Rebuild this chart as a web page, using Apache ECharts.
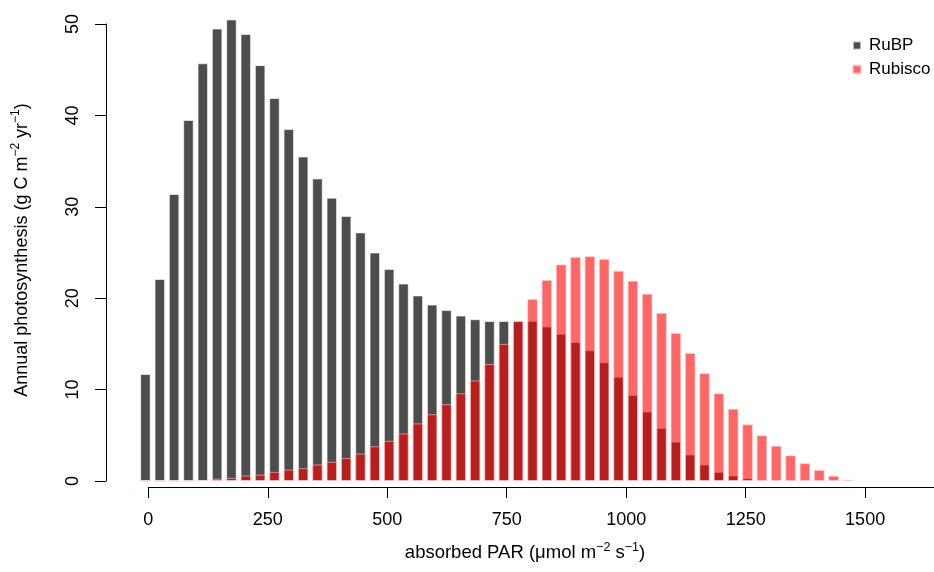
<!DOCTYPE html>
<html>
<head>
<meta charset="utf-8">
<title>Annual photosynthesis by absorbed PAR</title>
<script src="https://cdn.jsdelivr.net/npm/echarts@6/dist/echarts.min.js"></script>
<style>
  html, body { margin: 0; padding: 0; background: #fff; }
  #chart { width: 934px; height: 572px; }
</style>
</head>
<body>
<div id="chart"></div>
<script>
// bin centres of absorbed PAR (umol m-2 s-1)
const parBins = [
  -6, 24, 54, 84, 114, 144, 174, 204, 234, 264,
  294, 324, 354, 384, 414, 444, 474, 504, 534, 564,
  594, 624, 654, 684, 714, 744, 774, 804, 834, 864,
  894, 924, 954, 984, 1014, 1044, 1074, 1104, 1134, 1164,
  1194, 1224, 1254, 1284, 1314, 1344, 1374, 1404, 1434, 1464
]

const rubpValues = [
  11.7, 22.1, 31.4, 39.5, 45.7, 49.5, 50.5, 48.9, 45.5, 41.9,
  38.5, 35.5, 33.1, 31.0, 29.0, 27.2, 25.0, 23.2, 21.6, 20.3,
  19.3, 18.7, 18.1, 17.7, 17.5, 17.5, 17.5, 17.5, 16.9, 16.1,
  15.2, 14.3, 13.0, 11.4, 9.4, 7.6, 5.8, 4.3, 2.9, 1.8,
  1.0, 0.6, 0.3, 0.1, 0, 0, 0, 0, 0, 0
]

const rubiscoValues = [
  0, 0, 0, 0, 0.1, 0.25, 0.35, 0.6, 0.7, 1.0,
  1.25, 1.4, 1.8, 2.1, 2.5, 3.0, 3.8, 4.4, 5.2, 6.3,
  7.3, 8.4, 9.6, 11.0, 12.8, 15.0, 17.5, 19.9, 22.0, 23.7,
  24.5, 24.6, 24.3, 23.0, 21.9, 20.5, 18.4, 16.2, 14.0, 11.8,
  9.6, 7.9, 6.2, 5.0, 3.85, 2.8, 1.95, 1.2, 0.57, 0.15
]

const xTicks = [0, 250, 500, 750, 1000, 1250, 1500]
const yTicks = [0, 10, 20, 30, 40, 50]

const font = "'Liberation Sans', Arial, sans-serif"
const axisColor = '#000'

const chart = echarts.init(document.getElementById('chart'))

chart.setOption({
  animation: false,
  backgroundColor: '#fff',
  grid: {
    left: 148.3,
    top: 24,
    width: 836.3,
    height: 457,
    containLabel: false,
    outerBoundsMode: 'none'
  },
  legend: {
    data: ['RuBP', 'Rubisco'],
    orient: 'vertical',
    left: 847,
    top: 32,
    icon: 'rect',
    itemWidth: 8,
    itemHeight: 8,
    itemGap: 7,
    selectedMode: false,
    textStyle: {
      fontFamily: font,
      fontSize: 17,
      color: '#000',
      padding: [0, 0, 0, 3]
    }
  },
  xAxis: {
    type: 'value',
    min: 0,
    max: 1750,
    interval: 250,
    offset: 6,
    axisLine: { show: true, onZero: false, lineStyle: { color: axisColor, width: 1 } },
    axisTick: { show: true, length: 11, lineStyle: { color: axisColor, width: 1 } },
    axisLabel: {
      color: '#000',
      fontFamily: font,
      fontSize: 18,
      margin: 24,
      formatter: v => (xTicks.indexOf(v) >= 0 ? String(v) : '')
    },
    splitLine: { show: false }
  },
  yAxis: {
    type: 'value',
    min: 0,
    max: 50,
    interval: 10,
    offset: 42.3,
    axisLine: { show: true, onZero: false, lineStyle: { color: axisColor, width: 1 } },
    axisTick: { show: true, length: 11, lineStyle: { color: axisColor, width: 1 } },
    axisLabel: {
      color: '#000',
      fontFamily: font,
      fontSize: 18,
      rotate: 90,
      margin: 24,
      formatter: v => (yTicks.indexOf(v) >= 0 ? String(v) : '')
    },
    splitLine: { show: false }
  },
  graphic: [
    {
      type: 'text',
      x: 525,
      y: 553,
      style: {
        text: 'absorbed PAR (μmol m{s|−2} s{s|−1})',
        fontFamily: font,
        fontSize: 18.5,
        lineHeight: 24,
        fill: '#000',
        align: 'center',
        verticalAlign: 'middle',
        rich: {
          s: { fontFamily: font, fontSize: 12.5, fill: '#000', verticalAlign: 'top' }
        }
      }
    },
    {
      type: 'text',
      x: 22,
      y: 250,
      rotation: Math.PI / 2,
      style: {
        text: 'Annual photosynthesis (g C m{s|−2} yr{s|−1})',
        fontFamily: font,
        fontSize: 18,
        lineHeight: 24,
        fill: '#000',
        align: 'center',
        verticalAlign: 'middle',
        rich: {
          s: { fontFamily: font, fontSize: 12, fill: '#000', verticalAlign: 'top' }
        }
      }
    }
  ],
  series: [
    {
      name: 'RuBP',
      type: 'bar',
      data: parBins.map((x, i) => [x, rubpValues[i]]),
      barWidth: 10.5,
      barGap: '-100%',
      clip: false,
      itemStyle: {
        color: '#4d4d4d',
        borderColor: 'rgba(255,255,255,0.6)',
        borderWidth: 1
      }
    },
    {
      name: 'Rubisco',
      type: 'bar',
      data: parBins.map((x, i) => [x, rubiscoValues[i]]),
      barWidth: 10.5,
      barGap: '-100%',
      clip: false,
      itemStyle: {
        color: 'rgba(255,0,0,0.6)',
        borderColor: 'rgba(255,200,200,0.6)',
        borderWidth: 1
      }
    }
  ]
})
</script>
</body>
</html>
